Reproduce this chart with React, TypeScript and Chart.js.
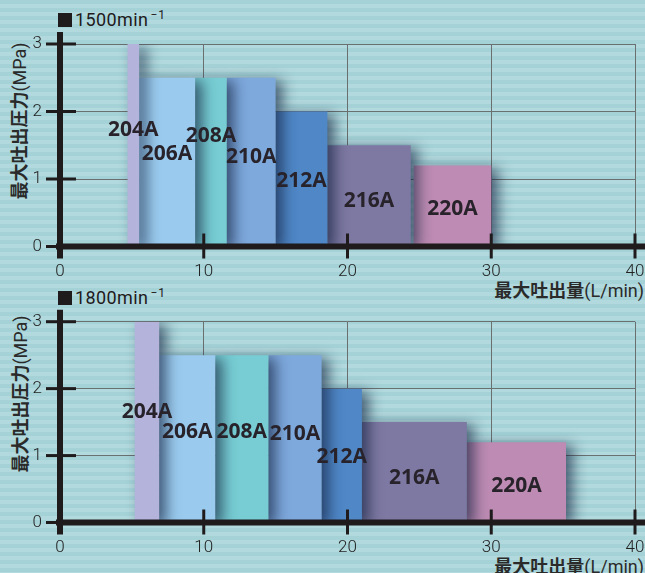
import React, { useEffect, useRef } from "react";
import { Chart, registerables } from "chart.js";

// Pump models, left to right along the flow axis
const models = ["204A", "206A", "208A", "210A", "212A", "216A", "220A"];

// 1500 min⁻¹ : flow range (L/min) covered by each model and its max pressure (MPa)
const flowFrom1500 = [4.7, 5.5, 9.4, 11.6, 15.0, 18.6, 24.6];
const flowTo1500 = [5.5, 9.4, 11.6, 15.0, 18.6, 24.4, 30.0];
const pressure1500 = [3.0, 2.5, 2.5, 2.5, 2.0, 1.5, 1.2];

// 1800 min⁻¹
const flowFrom1800 = [5.2, 6.9, 10.8, 14.5, 18.2, 21.0, 28.3];
const flowTo1800 = [6.9, 10.8, 14.5, 18.2, 21.0, 28.3, 35.2];
const pressure1800 = [3.0, 2.5, 2.5, 2.5, 2.0, 1.5, 1.2];

const flowTicks = [0, 10, 20, 30, 40];
const pressureTicks = [0, 1, 2, 3];

const barColors = ["#b3b3dc", "#9acbee", "#77cdd3", "#7ea9dd", "#4f87c7", "#7e79a3", "#bd8bb3"];

const W = 645;
const H = 573;
const PLOT_LEFT = 60;
const PLOT_RIGHT = 635;
const GRID = "#6a6f70";
const INK = "#1f1a1c";

// Soft drop shadow under every filled block (registered ahead of the Filler plugin)
const blockShadow = {
  id: "blockShadow",
  beforeDatasetDraw(chart: any) {
    const ctx = chart.ctx;
    ctx.save();
    ctx.shadowColor = "rgba(18,32,60,0.66)";
    ctx.shadowBlur = 14;
    ctx.shadowOffsetX = 7;
    ctx.shadowOffsetY = 3;
  },
  afterDatasetDraw(chart: any) {
    chart.ctx.restore();
  },
};

Chart.register(blockShadow, ...registerables);

type PanelSpec = {
  from: number[];
  to: number[];
  pressure: number[];
  top: number;
  bottom: number;
  labelLevels: number[];
};

function ChartPanel({ spec }: { spec: PanelSpec }) {
  const ref = useRef<HTMLCanvasElement | null>(null);

  useEffect(() => {
    const canvas = ref.current;
    if (!canvas) return;

    // each model is a closed rectangle: flow range × (0 … max pressure)
    const datasets = models.map((m, i) => ({
      label: m,
      data: [
        { x: spec.from[i], y: 0 },
        { x: spec.from[i], y: spec.pressure[i] },
        { x: spec.to[i], y: spec.pressure[i] },
        { x: spec.to[i], y: 0 },
      ],
      fill: "shape",
      backgroundColor: barColors[i],
      borderColor: "rgba(0,0,0,0)",
      borderWidth: 0,
      pointRadius: 0,
      pointHoverRadius: 0,
      tension: 0,
    }));

    // Heavy axes, cross ticks and model names
    const decorations = {
      id: "decorations",
      afterDraw(chart: any) {
        const ctx = chart.ctx;
        const xs = chart.scales.x;
        const ys = chart.scales.y;
        const area = chart.chartArea;
        ctx.save();

        // model names
        ctx.font = "700 21px 'Open Sans'";
        ctx.fillStyle = "#28232b";
        ctx.textAlign = "center";
        ctx.textBaseline = "middle";
        models.forEach((m, i) => {
          const cx = (xs.getPixelForValue(spec.from[i]) + xs.getPixelForValue(spec.to[i])) / 2;
          const cy = ys.getPixelForValue(spec.labelLevels[i]);
          ctx.fillText(m, cx, cy);
        });

        ctx.strokeStyle = INK;
        ctx.lineCap = "butt";

        // y ticks
        ctx.lineWidth = 3;
        pressureTicks.forEach((v) => {
          const y = ys.getPixelForValue(v);
          ctx.beginPath();
          ctx.moveTo(area.left - 14, y);
          ctx.lineTo(area.left + 16, y);
          ctx.stroke();
        });
        // x ticks
        flowTicks.forEach((v) => {
          if (v === 0) return;
          const x = xs.getPixelForValue(v);
          ctx.beginPath();
          ctx.moveTo(x, area.bottom - 13);
          ctx.lineTo(x, area.bottom + 12);
          ctx.stroke();
        });

        // axis lines
        ctx.lineWidth = 6;
        ctx.beginPath();
        ctx.moveTo(area.left, area.top - 12);
        ctx.lineTo(area.left, area.bottom + 12);
        ctx.stroke();
        ctx.beginPath();
        ctx.moveTo(area.left - 4, area.bottom);
        ctx.lineTo(chart.width, area.bottom);
        ctx.stroke();

        ctx.restore();
      },
    };

    const tickFont = { family: "Roboto", size: 17, weight: "300" as any };

    const chart = new Chart(canvas, {
      type: "line",
      data: { datasets: datasets as any },
      options: {
        animation: false,
        responsive: false,
        events: [],
        layout: { padding: { top: spec.top, right: W - PLOT_RIGHT, left: 0, bottom: 0 } },
        plugins: {
          legend: { display: false },
          tooltip: { enabled: false },
        },
        scales: {
          x: {
            type: "linear",
            min: 0,
            max: 40,
            z: 1,
            afterFit: (s: any) => {
              s.height = H - spec.bottom;
              s.paddingLeft = 0;
              s.paddingRight = 0;
            },
            afterBuildTicks: (s: any) => {
              s.ticks = flowTicks.map((v) => ({ value: v }));
            },
            grid: { color: GRID, lineWidth: 1, drawTicks: false },
            border: { display: false },
            ticks: { font: tickFont, color: "#222", padding: 15, maxRotation: 0 },
          },
          y: {
            type: "linear",
            min: 0,
            max: 3,
            z: 1,
            afterFit: (s: any) => {
              s.width = PLOT_LEFT;
              s.paddingTop = 0;
              s.paddingBottom = 0;
            },
            afterBuildTicks: (s: any) => {
              s.ticks = pressureTicks.map((v) => ({ value: v }));
            },
            grid: { color: GRID, lineWidth: 1, drawTicks: false },
            border: { display: false },
            ticks: { font: tickFont, color: "#222", padding: 18 },
          },
        },
      },
      plugins: [decorations],
    });

    return () => chart.destroy();
  }, [spec]);

  return (
    <canvas
      ref={ref}
      width={W}
      height={H}
      style={{ position: "absolute", left: 0, top: 0, width: W, height: H }}
    />
  );
}

const cjk = "'Noto Sans CJK JP', 'Noto Sans', sans-serif";
const latin = "Roboto, 'Noto Sans', sans-serif";

function SpeedTag({ top, speed }: { top: number; speed: string }) {
  return (
    <div
      style={{
        position: "absolute",
        left: 58,
        top,
        height: 16,
        display: "flex",
        alignItems: "center",
        color: INK,
        fontFamily: latin,
        fontWeight: 400,
        fontSize: 18,
        lineHeight: "16px",
        whiteSpace: "nowrap",
      }}
    >
      <span style={{ display: "inline-block", width: 14, height: 14, background: INK, marginRight: 3 }} />
      <span style={{ letterSpacing: 0.4 }}>{speed}min</span>
      <span style={{ fontSize: 12, position: "relative", top: -5, marginLeft: 2, letterSpacing: 1 }}>−1</span>
    </div>
  );
}

function YTitle({ cx, cy }: { cx: number; cy: number }) {
  return (
    <div
      style={{
        position: "absolute",
        left: cx,
        top: cy,
        transform: "translate(-50%, -50%) rotate(-90deg)",
        whiteSpace: "nowrap",
        fontSize: 18,
        lineHeight: "18px",
        color: "#2a2a2a",
      }}
    >
      <span style={{ fontFamily: cjk, fontWeight: 700 }}>最大吐出圧力</span>
      <span style={{ fontFamily: latin, fontWeight: 400 }}>(MPa)</span>
    </div>
  );
}

function XTitle({ cy }: { cy: number }) {
  return (
    <div
      style={{
        position: "absolute",
        right: 1,
        top: cy - 9,
        whiteSpace: "nowrap",
        fontSize: 18,
        lineHeight: "18px",
        color: "#2a2a2a",
      }}
    >
      <span style={{ fontFamily: cjk, fontWeight: 700 }}>最大吐出量</span>
      <span style={{ fontFamily: latin, fontWeight: 400 }}>(L/min)</span>
    </div>
  );
}

const upperPanel: PanelSpec = {
  from: flowFrom1500,
  to: flowTo1500,
  pressure: pressure1500,
  top: 44,
  bottom: 246.5,
  labelLevels: [1.72, 1.37, 1.64, 1.32, 0.97, 0.68, 0.55],
};

const lowerPanel: PanelSpec = {
  from: flowFrom1800,
  to: flowTo1800,
  pressure: pressure1800,
  top: 321.7,
  bottom: 522.5,
  labelLevels: [1.65, 1.35, 1.35, 1.32, 0.98, 0.67, 0.54],
};

export default function App() {
  return (
    <div
      style={{
        position: "relative",
        width: W,
        height: H,
        overflow: "hidden",
        background:
          "repeating-linear-gradient(to bottom, #a4d2d7 0px, #a4d2d7 4px, #b2d9dd 4px, #b2d9dd 8px)",
      }}
    >
      <style>{"body{margin:0}"}</style>
      <SpeedTag top={12} speed="1500" />
      <SpeedTag top={290} speed="1800" />
      <YTitle cx={19} cy={121} />
      <YTitle cx={20} cy={394} />
      <XTitle cy={288.5} />
      <XTitle cy={565} />
      <ChartPanel spec={upperPanel} />
      <ChartPanel spec={lowerPanel} />
    </div>
  );
}
